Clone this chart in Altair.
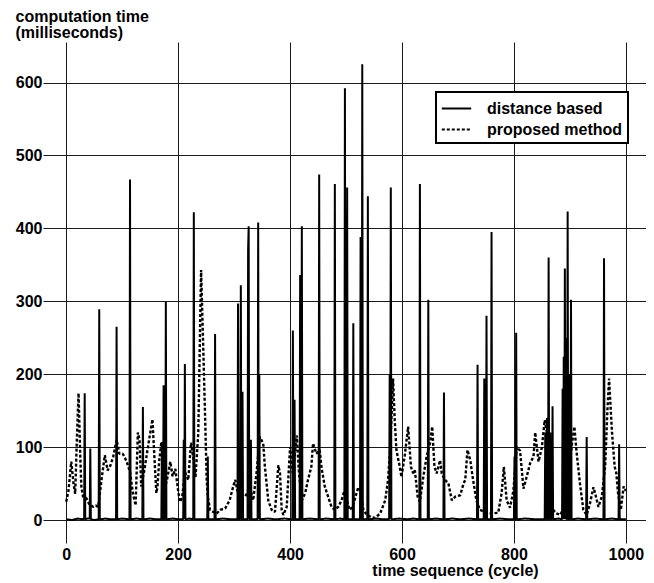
import altair as alt
import pandas as pd

series_names = ["distance based", "proposed method"]
x_ticks = [0, 200, 400, 600, 800, 1000]
y_ticks = [0, 100, 200, 300, 400, 500, 600]

# [cycle, milliseconds]
distance_based = [
    [0, 1], [10, 0], [20, 2], [31, 1], [32, 1], [33, 174], [34, 1], [38, 2], [42, 2], [43, 98], [44, 1],
    [50, 0], [58, 1], [59, 289], [60, 1], [70, 2], [80, 1], [89, 1], [90, 265], [91, 1], [100, 2],
    [113, 1], [114, 467], [115, 1], [125, 2], [136, 1], [137, 155], [138, 1], [150, 2], [160, 1],
    [170, 1], [171, 107], [172, 1], [173, 1], [174, 185], [175, 1], [177, 1], [178, 299], [179, 1],
    [190, 2], [200, 1], [209, 1], [210, 110], [211, 1], [212, 214], [213, 1], [220, 2], [227, 1],
    [228, 422], [229, 1], [240, 1], [252, 1], [253, 87], [254, 1], [265, 1], [266, 255], [267, 1],
    [280, 2], [295, 1], [306, 1], [307, 297], [308, 1], [311, 1], [312, 322], [313, 1], [314, 1],
    [315, 176], [316, 1], [324, 1], [325, 370], [326, 403], [327, 1], [329, 1], [330, 110], [331, 1],
    [342, 1], [343, 408], [344, 1], [345, 200], [346, 1], [360, 2], [375, 1], [390, 2], [404, 1],
    [405, 260], [406, 1], [407, 1], [408, 165], [409, 1], [417, 1], [418, 336], [419, 1], [420, 1],
    [421, 403], [422, 1], [435, 2], [451, 1], [452, 474], [453, 1], [465, 2], [479, 1], [480, 461],
    [481, 1], [490, 2], [497, 1], [498, 592], [499, 1], [501, 1], [502, 456], [503, 1], [512, 1],
    [513, 270], [514, 1], [525, 1], [526, 388], [527, 1], [528, 1], [529, 625], [530, 1], [538, 1],
    [539, 444], [540, 1], [555, 2], [565, 1], [577, 1], [578, 200], [579, 1], [580, 456], [581, 1],
    [595, 2], [610, 1], [620, 2], [631, 1], [632, 461], [633, 1], [646, 1], [647, 302], [648, 1],
    [660, 2], [674, 1], [675, 175], [676, 1], [690, 2], [705, 1], [720, 2], [734, 1], [735, 213],
    [736, 1], [746, 1], [747, 194], [748, 1], [750, 1], [751, 280], [752, 1], [759, 1], [760, 395],
    [761, 1], [775, 2], [790, 1], [800, 1], [801, 87], [802, 1], [803, 1], [804, 257], [805, 1],
    [820, 2], [840, 1], [855, 1], [856, 120], [857, 1], [858, 1], [859, 140], [860, 1], [861, 1],
    [862, 360], [863, 1], [864, 1], [865, 120], [866, 1], [868, 1], [869, 156], [870, 1], [880, 2],
    [886, 1], [887, 180], [888, 1], [889, 224], [890, 1], [891, 345], [892, 1], [893, 250], [894, 1],
    [895, 1], [896, 423], [897, 1], [898, 1], [899, 200], [900, 1], [901, 1], [902, 302], [903, 1],
    [915, 2], [929, 1], [930, 114], [931, 1], [945, 2], [960, 1], [961, 359], [962, 1], [975, 2],
    [987, 1], [988, 104], [989, 1], [1000, 1],
]

proposed_method = [
    [0, 25], [4, 40], [9, 80], [13, 50], [16, 36], [19, 110], [22, 174], [25, 90], [27, 46], [30, 32],
    [36, 30], [41, 22], [48, 18], [53, 20], [57, 18], [60, 35], [63, 55], [69, 89], [74, 68], [79, 75],
    [84, 87], [90, 110], [95, 91], [101, 91], [105, 85], [108, 80], [114, 66], [119, 37], [124, 20],
    [128, 120], [131, 110], [134, 46], [140, 70], [146, 100], [154, 138], [158, 80], [161, 37],
    [163, 45], [166, 80], [170, 107], [173, 70], [175, 40], [180, 55], [186, 80], [190, 60], [195, 70],
    [200, 40], [203, 25], [207, 30], [212, 66], [218, 55], [223, 106], [228, 80], [231, 59], [236, 120],
    [241, 343], [244, 260], [248, 146], [251, 55], [253, 32], [257, 14], [263, 11], [269, 9], [275, 14],
    [284, 16], [292, 27], [298, 45], [302, 55], [306, 40], [312, 30], [320, 32], [328, 45], [334, 27],
    [340, 64], [346, 114], [352, 105], [355, 73], [361, 27], [367, 14], [373, 11], [379, 75], [382, 64],
    [385, 14], [388, 7], [394, 18], [400, 100], [405, 64], [412, 116], [416, 64], [421, 27], [427, 37],
    [432, 55], [438, 73], [441, 105], [447, 91], [453, 96], [456, 73], [462, 46], [468, 32], [474, 18],
    [480, 14], [486, 18], [492, 27], [497, 40], [501, 30], [506, 14], [512, 18], [518, 35], [522, 45],
    [526, 40], [531, 14], [537, 7], [545, 4], [552, 3], [561, 9], [570, 27], [575, 55], [579, 100],
    [584, 194], [587, 137], [590, 96], [596, 73], [599, 59], [605, 89], [611, 128], [616, 73], [620, 64],
    [623, 68], [628, 32], [632, 25], [638, 59], [644, 87], [650, 105], [654, 128], [658, 73], [662, 64],
    [668, 82], [671, 64], [677, 55], [683, 50], [689, 27], [695, 32], [704, 34], [710, 50], [713, 55],
    [717, 96], [722, 82], [727, 55], [733, 27], [739, 14], [748, 11], [760, 9], [772, 10], [778, 37],
    [782, 73], [787, 27], [793, 17], [799, 40], [805, 100], [811, 95], [817, 43], [823, 60], [829, 78],
    [835, 87], [838, 120], [844, 80], [850, 100], [855, 137], [859, 120], [863, 80], [866, 40],
    [870, 14], [876, 9], [883, 7], [890, 20], [897, 60], [903, 100], [908, 128], [912, 93], [918, 50],
    [924, 14], [930, 7], [936, 23], [942, 45], [945, 37], [951, 18], [957, 32], [963, 73], [967, 150],
    [970, 194], [975, 123], [980, 73], [983, 64], [986, 37], [991, 14], [996, 46], [1000, 40],
]

FONT = "Liberation Sans"

dist_df = pd.DataFrame(distance_based, columns=["cycle", "ms"])
dist_df["series"] = series_names[0]
prop_df = pd.DataFrame(proposed_method, columns=["cycle", "ms"])
prop_df["series"] = series_names[1]

x_enc = alt.X(
    "cycle:Q",
    scale=alt.Scale(domain=[-41.5, 1036], nice=False, zero=False),
    axis=alt.Axis(
        values=x_ticks, format="d", title="time sequence (cycle)", labelPadding=3,
        titleX=412, titleY=32, titleAlign="center", titleBaseline="alphabetic",
        labelFlush=False, labelOverlap=False,
    ),
)
y_enc = alt.Y(
    "ms:Q",
    scale=alt.Scale(domain=[-31.5, 655.6], nice=False, zero=False),
    axis=alt.Axis(
        values=y_ticks, format="d", title=["computation time", "(milliseconds)"], labelPadding=1,
        titleAngle=0, titleX=-28, titleY=-21, titleAlign="left", titleBaseline="alphabetic",
        titleLineHeight=16, labelOverlap=False,
    ),
)
dash_enc = alt.StrokeDash(
    "series:N",
    scale=alt.Scale(domain=series_names, range=[[1, 0], [3, 2]]),
    legend=alt.Legend(
        title=None, orient="none", legendX=393, legendY=50,
        symbolType="M-1.4,0H1.4", symbolSize=441, symbolStrokeWidth=2,
        symbolStrokeColor="black", symbolOffset=4, labelOffset=19,
        labelFont=FONT, labelFontSize=16, labelFontWeight="bold", labelColor="black",
        padding=5, rowPadding=1, strokeColor="black", fillColor="white",
    ),
)

proposed_layer = alt.Chart(prop_df).mark_line(
    color="black", strokeWidth=2.4, strokeJoin="bevel"
).encode(x=x_enc, y=y_enc, strokeDash=dash_enc)

distance_layer = alt.Chart(dist_df).mark_line(
    color="black", strokeWidth=2, strokeJoin="bevel"
).encode(x=x_enc, y=y_enc, strokeDash=dash_enc)

chart = (
    alt.layer(proposed_layer, distance_layer)
    .properties(
        width=603, height=501,
        autosize=alt.AutoSizeParams(type="none"),
        padding={"left": 35, "top": 34, "right": 0, "bottom": 40},
        background="white",
    )
    .configure_view(stroke=None)
    .configure_axis(
        grid=True, gridColor="#1a1a1a", gridWidth=1, gridOpacity=1,
        domain=False, ticks=False,
        labelFont=FONT, labelFontSize=16, labelFontWeight="bold", labelColor="black",
        titleFont=FONT, titleFontSize=16, titleFontWeight="bold", titleColor="black",
    )
    .configure_legend(strokeWidth=2)
)

chart.save("out.html", embed_options={"renderer": "svg", "actions": False})
